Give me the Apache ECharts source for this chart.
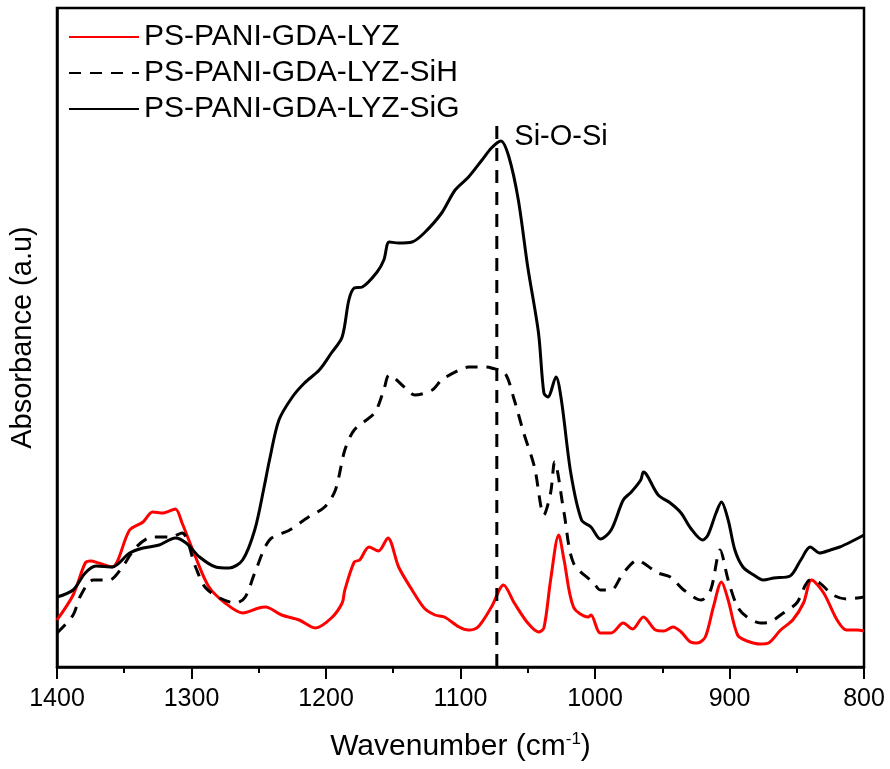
<!DOCTYPE html>
<html>
<head>
<meta charset="utf-8">
<title>FTIR spectra</title>
<script src="https://cdn.jsdelivr.net/npm/echarts@6/dist/echarts.min.js"></script>
<style>
html,body{margin:0;padding:0;background:#fff;}
#main{width:890px;height:769px;}
</style>
</head>
<body>
<div id="main"></div>
<script>
// wavenumber (cm-1), absorbance (arbitrary units)
var lyz = [
  [1400,43],[1388,68],[1379,100],[1375,102],[1369,100],[1359,96],[1346,133],[1336,141],
  [1329,151],[1321,150],[1312,154],[1307,140],[1297,106],[1287,76],[1275,60],[1262,50],
  [1250,55],[1245,56],[1233,48],[1220,43],[1208,35],[1196,45],[1188,60],[1186,73],
  [1179,101],[1175,103],[1168,116],[1161,112],[1154,125],[1146,96],[1136,73],[1127,55],
  [1119,48],[1112,46],[1101,36],[1094,33],[1087,36],[1077,56],[1068,78],[1060,60],
  [1050,40],[1042,31],[1038,35],[1033,83],[1027,128],[1023,103],[1016,56],[1005,46],
  [1003,48],[996,30],[988,30],[979,40],[972,34],[964,46],[955,33],[949,32],[942,36],
  [936,31],[929,21],[924,20],[918,26],[912,56],[906,81],[901,63],[894,28],[887,22],
  [877,19],[871,20],[862,33],[853,43],[845,60],[839,83],[830,70],[820,43],[813,33],
  [805,33],[800,32]
];
var lyzSiH = [
  [1400,30],[1388,48],[1383,66],[1373,83],[1361,83],[1353,93],[1341,116],[1329,126],
  [1316,126],[1307,130],[1297,96],[1290,76],[1279,65],[1267,60],[1260,66],[1253,90],
  [1242,123],[1227,133],[1213,146],[1201,156],[1193,173],[1186,213],[1179,233],[1164,250],
  [1157,273],[1153,288],[1141,275],[1134,268],[1121,273],[1114,283],[1101,293],[1094,296],
  [1082,296],[1077,295],[1067,290],[1060,263],[1053,230],[1045,196],[1038,148],[1033,170],
  [1030,201],[1023,150],[1016,100],[1001,80],[996,73],[988,73],[979,90],[968,103],
  [964,100],[953,90],[944,86],[934,73],[921,63],[914,73],[907,113],[901,83],[894,56],
  [887,46],[877,40],[870,41],[860,50],[850,60],[840,83],[833,80],[823,68],[813,64],[800,66]
];
var lyzSiG = [
  [1400,66],[1388,73],[1379,90],[1371,97],[1359,96],[1346,110],[1336,115],[1324,118],
  [1312,125],[1304,120],[1294,106],[1282,96],[1272,95],[1262,103],[1253,133],[1246,176],
  [1242,203],[1235,243],[1225,266],[1216,280],[1205,293],[1196,310],[1188,326],[1183,363],
  [1179,375],[1173,376],[1162,391],[1157,403],[1153,421],[1146,420],[1136,421],[1127,430],
  [1114,450],[1104,473],[1094,486],[1084,503],[1077,515],[1070,522],[1064,506],[1057,463],
  [1050,396],[1042,330],[1038,270],[1035,266],[1029,286],[1025,263],[1018,190],[1010,143],
  [1003,136],[996,124],[988,133],[979,163],[973,171],[966,183],[964,191],[953,168],
  [944,160],[936,150],[929,135],[920,123],[916,128],[910,150],[906,161],[901,143],
  [896,113],[890,96],[882,88],[875,83],[867,85],[855,87],[847,103],[840,116],[833,110],
  [825,113],[818,116],[810,121],[800,128]
];
var seriesNames = ['PS-PANI-GDA-LYZ','PS-PANI-GDA-LYZ-SiH','PS-PANI-GDA-LYZ-SiG'];
var siOSi = [[1073,-4],[1073,540]]; // Si-O-Si band marker
var xTicks = [1400,1300,1200,1100,1000,900,800];

var myChart = echarts.init(document.getElementById('main'));
var regular = '"Liberation Sans",Arial,sans-serif';

var option = {
  backgroundColor:'#fff',
  animation:false,
  grid:{left:54,top:8,right:26,bottom:102,show:true,borderColor:'#000',borderWidth:2.5},
  legend:{
    data:seriesNames,
    orient:'vertical',
    left:63, top:17,
    itemWidth:70, itemHeight:14, itemGap:6,
    itemStyle:{opacity:0},
    textStyle:{fontSize:30,color:'#000',fontFamily:regular}
  },
  xAxis:{
    type:'value', inverse:true, min:800, max:1400, interval:100,
    axisLine:{onZero:false,lineStyle:{color:'#000',width:2.5}},
    axisTick:{length:12,lineStyle:{width:2}},
    minorTick:{show:true,splitNumber:2,length:6,lineStyle:{color:'#000',width:2}},
    splitLine:{show:false},
    axisLabel:{fontSize:25,color:'#000',fontFamily:regular,margin:20,
      formatter:function(v){return xTicks.indexOf(v)>=0?String(v):'';}},
    name:'{a|Wavenumber (cm}{s|-1}{a|)}',
    nameLocation:'middle', nameGap:64,
    nameTextStyle:{rich:{
      a:{fontSize:30,color:'#000',fontFamily:regular},
      s:{fontSize:17,color:'#000',fontFamily:regular,verticalAlign:'top',padding:[0,0,14,0]}
    }}
  },
  yAxis:{
    type:'value', min:-4, max:655,
    axisLine:{show:true,lineStyle:{color:'#000',width:2.5}},
    axisTick:{show:false}, axisLabel:{show:false}, splitLine:{show:false},
    name:'Absorbance (a.u)', nameLocation:'middle', nameGap:20,
    nameTextStyle:{fontSize:29,color:'#000',fontFamily:regular}
  },
  series:[
    {name:seriesNames[0],type:'line',data:lyz,showSymbol:false,symbol:'none',smooth:0.3,
      lineStyle:{color:'#ff0000',width:3},itemStyle:{color:'#ff0000'}},
    {name:seriesNames[1],type:'line',data:lyzSiH,showSymbol:false,symbol:'none',smooth:0.3,
      lineStyle:{color:'#000',width:3,type:[12,9]},itemStyle:{color:'#000'}},
    {name:seriesNames[2],type:'line',data:lyzSiG,showSymbol:false,symbol:'none',smooth:0.3,
      lineStyle:{color:'#000',width:3},itemStyle:{color:'#000'}},
    {name:'Si-O-Si',type:'line',data:siOSi,symbol:'none',silent:true,
      lineStyle:{color:'#000',width:3,type:[13,9]},
      markPoint:{
        symbol:'circle',symbolSize:1,itemStyle:{color:'rgba(0,0,0,0)'},
        label:{show:true,position:'right',formatter:'Si-O-Si',fontSize:29,color:'#000',
          fontFamily:regular,offset:[12,14]},
        data:[{coord:siOSi[1]}]
      }}
  ]
};
myChart.setOption(option);
</script>
</body>
</html>
